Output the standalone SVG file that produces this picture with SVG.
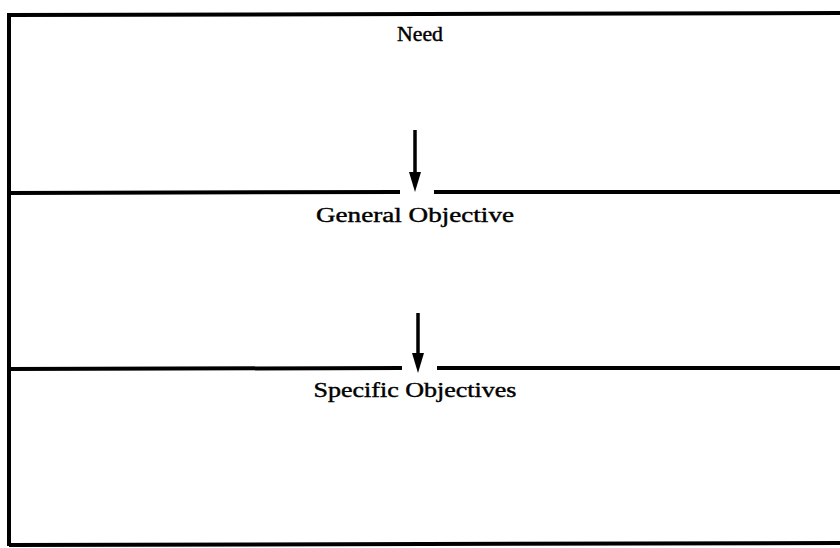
<svg xmlns="http://www.w3.org/2000/svg" width="840" height="548" viewBox="0 0 840 548">
<style>
.ln{stroke:#000;stroke-width:4;fill:none}
.lbl{font-family:"Liberation Serif","Times New Roman",serif;font-size:20px;fill:#000;stroke:#000;stroke-width:0.4;text-anchor:middle}
</style>
<rect width="840" height="548" fill="#fff"/>
<g id="frame">
<path class="ln" d="M9,15 L840,13"/>
<path class="ln" d="M9,13 L9,546"/>
<path class="ln" d="M9,545 L840,543"/>
</g>
<g id="dividers">
<path class="ln" d="M9,193 L400,192"/>
<path class="ln" d="M434,192 L840,192"/>
<path class="ln" d="M9,369 L402,368"/>
<path class="ln" d="M437,368 L840,368"/>
</g>
<g id="node-need"><text class="lbl" x="420" y="41" textLength="46" lengthAdjust="spacingAndGlyphs">Need</text></g>
<g id="node-general"><text class="lbl" x="415" y="222" textLength="198" lengthAdjust="spacingAndGlyphs">General Objective</text></g>
<g id="node-specific"><text class="lbl" x="415" y="397" textLength="203" lengthAdjust="spacingAndGlyphs">Specific Objectives</text></g>
<g id="connectors">
<path d="M415,130 L415,174" stroke="#000" stroke-width="3.5"/>
<path d="M409,172 L421,172 L415,192 Z" fill="#000"/>
<path d="M418,313 L418,355" stroke="#000" stroke-width="3.5"/>
<path d="M412,353 L424,353 L418,373 Z" fill="#000"/>
</g>
</svg>
